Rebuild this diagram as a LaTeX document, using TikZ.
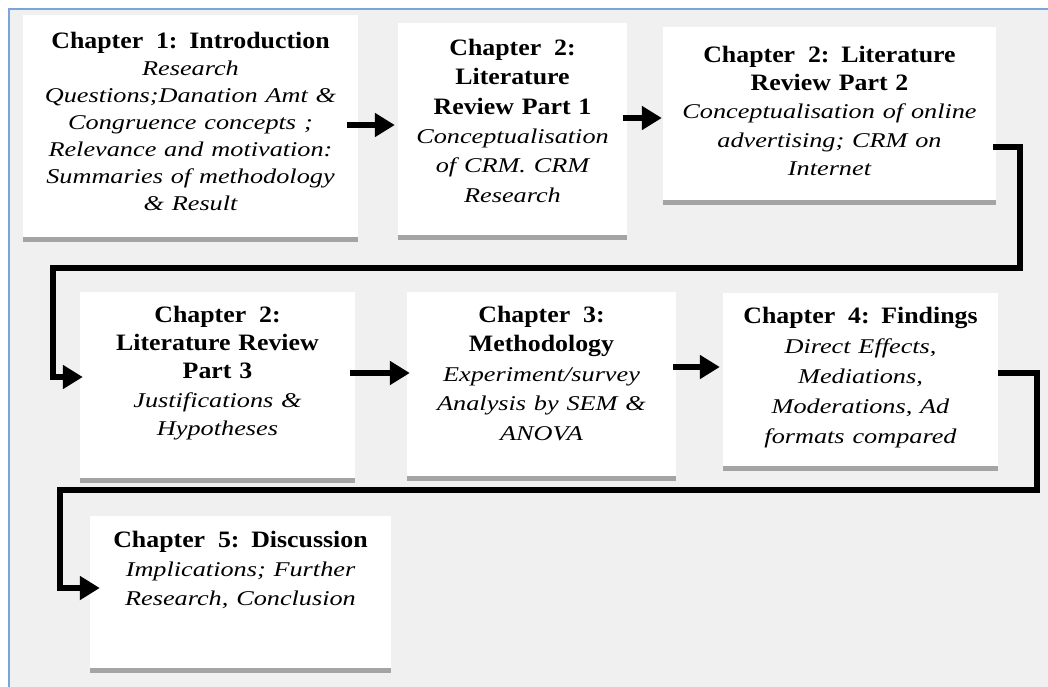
\documentclass[tikz,border=0pt]{standalone}
\usepackage{fontspec}
\setmainfont{Liberation Serif}
\newfontfamily\headfont[FakeStretch=1.10,WordSpace=0.8]{Liberation Serif}
\newfontfamily\bodyfont[FakeStretch=1.25,WordSpace=0.8]{Liberation Serif}
\usetikzlibrary{arrows.meta,shadows,calc}

\definecolor{pagebg}{HTML}{F0F0F0}
\definecolor{framebl}{HTML}{78A6DA}
\definecolor{shadowgr}{HTML}{A4A4A4}

% chapter heading (bold) and chapter summary (italic)
\newcommand\chaphead[1]{{\headfont\bfseries #1}}
\newcommand\chapbody[1]{{\bodyfont\itshape\fontsize{21}{\baselineskip}\selectfont #1}}
\newcommand\chapword{Chapter\hspace{5pt} }

\tikzset{
  chapbox/.style={fill=white, draw=none, inner sep=0pt,
    drop shadow={shadow xshift=0pt, shadow yshift=-5pt, opacity=1, fill=shadowgr}},
  chaptext/.style={text width=#1, align=center, inner sep=0pt, anchor=north},
  flow/.style={line width=5.5pt, line join=miter, draw=black,
    -{Triangle[length=20pt,width=23pt]}},
}

\begin{document}
\begin{tikzpicture}[x=1pt, y=-1pt]
\setlength\parskip{0pt}
\useasboundingbox (0,0) rectangle (1048,686);
\clip (0,0) rectangle (1048,686);

% page background and frame
\fill[pagebg] (8.5,8.5) rectangle (1060,700);
\draw[framebl, line width=2pt] (1060,8.5) -- (8.5,8.5) -- (8.5,700);

% chapter boxes
\node[chapbox, minimum width=335pt, minimum height=222pt] (b1) at (190.5,126) {};
\node[chapbox, minimum width=229pt, minimum height=212pt] (b2) at (512.5,129) {};
\node[chapbox, minimum width=333pt, minimum height=173pt] (b3) at (829.5,113.5) {};
\node[chapbox, minimum width=275pt, minimum height=186pt] (b4) at (217.5,385) {};
\node[chapbox, minimum width=269pt, minimum height=184pt] (b5) at (541.5,384) {};
\node[chapbox, minimum width=275pt, minimum height=173pt] (b6) at (860.5,379.5) {};
\node[chapbox, minimum width=301pt, minimum height=152pt] (b7) at (240.5,592) {};

% box texts
\node[chaptext=325pt, font=\fontsize{23.5}{27}\selectfont] (t1) at ($(b1.north)+(0,17)$) {%
  \chaphead{\chapword 1: Introduction}\\
  \chapbody{Research\\ Questions;Danation Amt \&\\ Congruence concepts ;\\
  Relevance and motivation:\\ Summaries of methodology\\ \& Result}};
\node[chaptext=220pt, font=\fontsize{23.5}{29.4}\selectfont] (t2) at ($(b2.north)+(0,16)$) {%
  \chaphead{\chapword 2:\\ Literature\\ Review Part 1}\\
  \chapbody{Conceptualisation\\ of CRM. CRM\\ Research}};
\node[chaptext=325pt, font=\fontsize{23.5}{28.3}\selectfont] (t3) at ($(b3.north)+(0,19)$) {%
  \chaphead{\chapword 2: Literature\\ Review Part 2}\\
  \chapbody{Conceptualisation of online\\ advertising; CRM on\\ Internet}};
\node[chaptext=265pt, font=\fontsize{23.5}{28.3}\selectfont] (t4) at ($(b4.north)+(0,14)$) {%
  \chaphead{\chapword 2:\\ Literature Review\\ Part 3}\\
  \chapbody{Justifications \&\\ Hypotheses}};
\node[chaptext=260pt, font=\fontsize{23.5}{29.5}\selectfont] (t5) at ($(b5.north)+(0,14)$) {%
  \chaphead{\chapword 3:\\ Methodology}\\
  \chapbody{Experiment/survey\\ Analysis by SEM \&\\ ANOVA}};
\node[chaptext=265pt, font=\fontsize{23.5}{30}\selectfont] (t6) at ($(b6.north)+(0,14)$) {%
  \chaphead{\chapword 4: Findings}\\
  \chapbody{Direct Effects,\\ Mediations,\\ Moderations, Ad\\ formats compared}};
\node[chaptext=290pt, font=\fontsize{23.5}{29}\selectfont] (t7) at ($(b7.north)+(0,15)$) {%
  \chaphead{\chapword 5: Discussion}\\
  \chapbody{Implications; Further\\ Research, Conclusion}};

% connectors
\draw[flow] ([xshift=-11pt,yshift=1pt]b1.east) -- ([xshift=-3pt,yshift=1pt]b1.east -| b2.west);
\draw[flow] ([xshift=-4pt,yshift=11pt]b2.east) -- ([xshift=-1pt,yshift=11pt]b2.east -| b3.west);
\draw[flow] ([xshift=-3pt,yshift=-33.5pt]b3.east) -- ++(27,0) |- (53,268)
  |- ([xshift=3pt,yshift=8pt]b4.west);
\draw[flow] ([xshift=-5pt,yshift=12pt]b4.east) -- ([xshift=3pt,yshift=12pt]b4.east -| b5.west);
\draw[flow] ([xshift=-3pt,yshift=17pt]b5.east) -- ([xshift=-3pt,yshift=17pt]b5.east -| b6.west);
\draw[flow] ([xshift=0pt,yshift=6.5pt]b6.east) -- ++(39,0) |- (60,490)
  |- ([xshift=10pt,yshift=4pt]b7.west);
\end{tikzpicture}
\end{document}
